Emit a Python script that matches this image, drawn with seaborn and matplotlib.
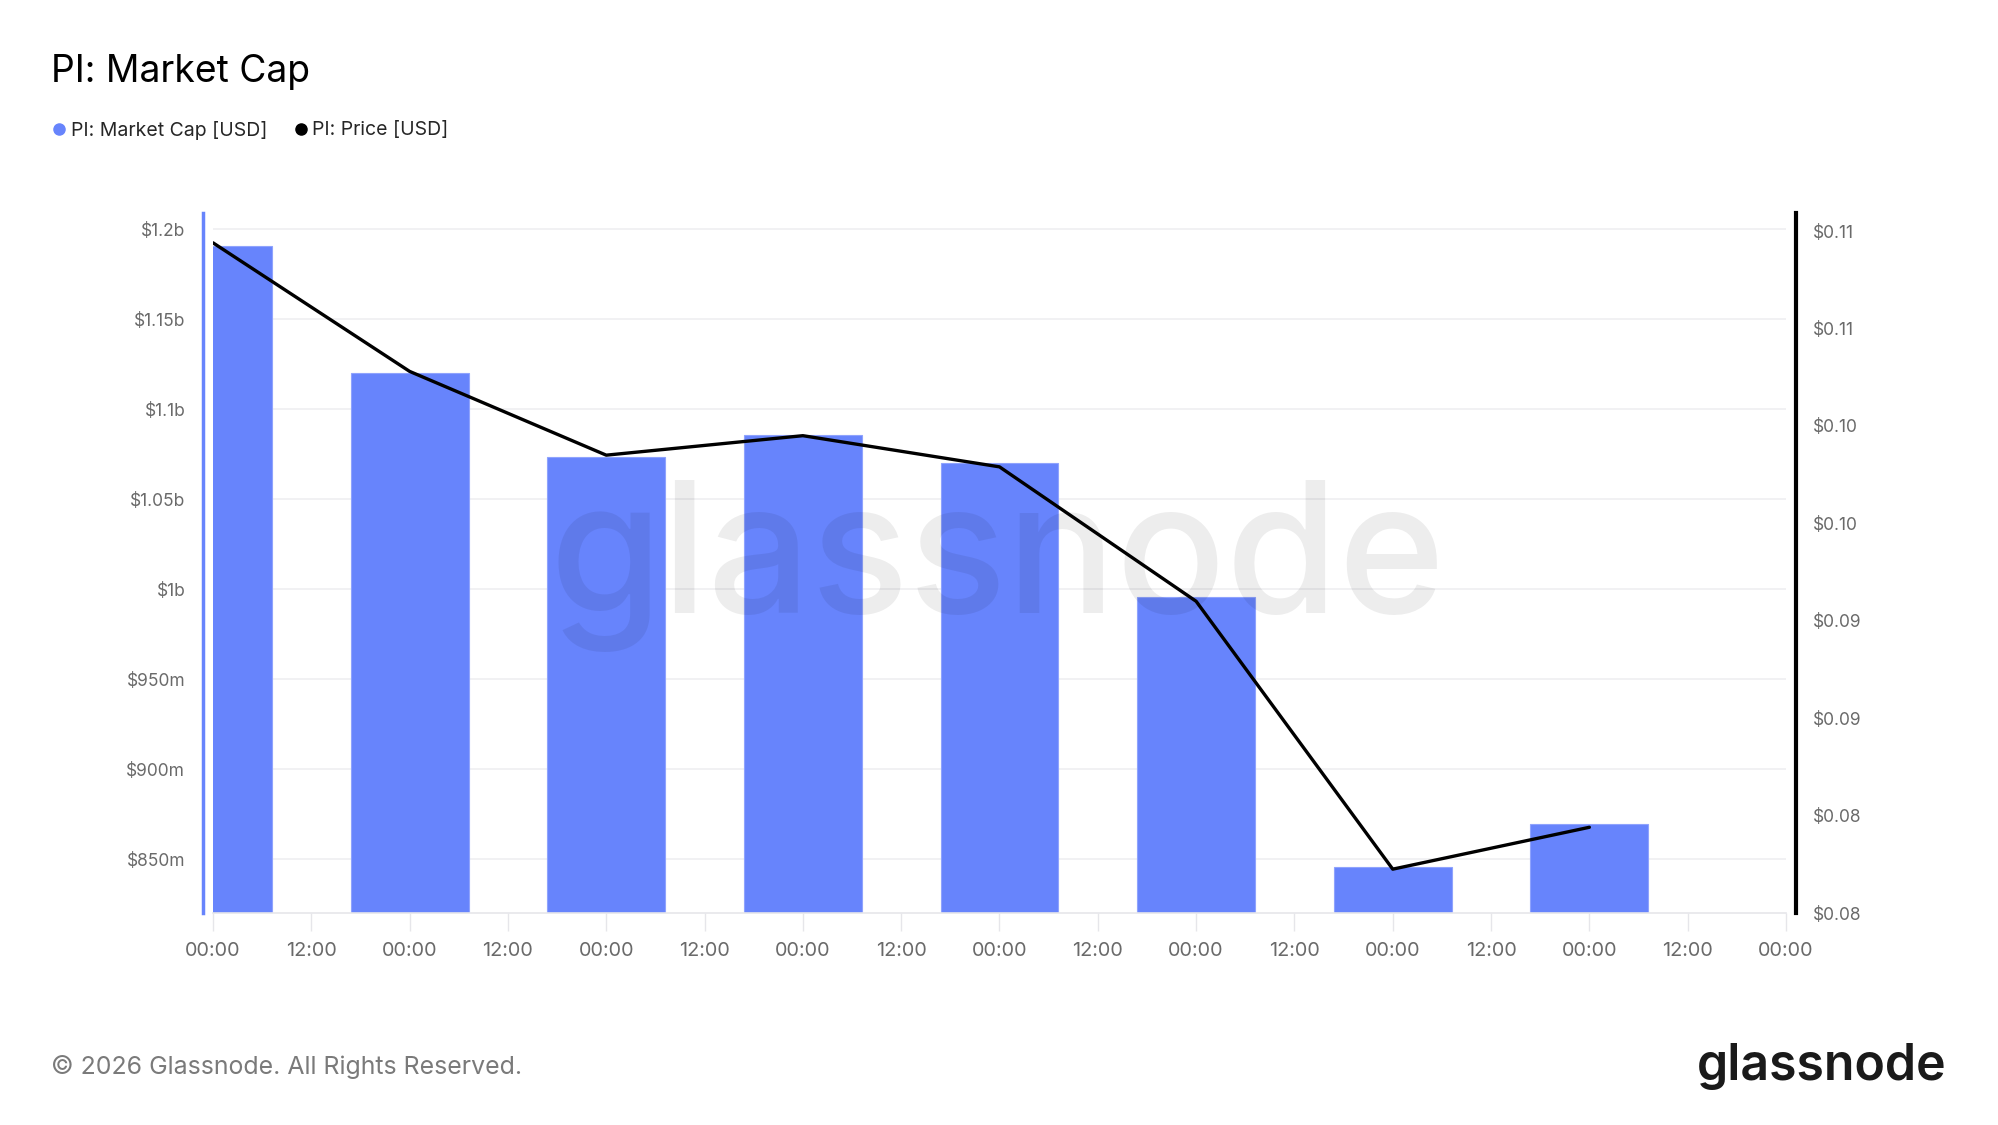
import math
import matplotlib
matplotlib.use("Agg")
import matplotlib.pyplot as plt
from matplotlib.lines import Line2D
from matplotlib.ticker import FixedLocator, FuncFormatter
import seaborn as sns

# daily values, day offset 0..7 (00:00 each day)
days = [0, 1, 2, 3, 4, 5, 6, 7]
market_cap = [1.1907e9, 1.1198e9, 1.0735e9, 1.0856e9, 1.0698e9, 0.9957e9, 0.8457e9, 0.8694e9]
price = [0.1144, 0.1078, 0.1035, 0.1045, 0.1029, 0.0960, 0.08225, 0.0844]

cap_ticks = [0.85e9, 0.9e9, 0.95e9, 1.0e9, 1.05e9, 1.1e9, 1.15e9, 1.2e9]
cap_labels = ["$850m", "$900m", "$950m", "$1b", "$1.05b", "$1.1b", "$1.15b", "$1.2b"]
price_ticks = [0.08, 0.085, 0.09, 0.095, 0.10, 0.105, 0.11, 0.115]
x_ticks = [i * 0.5 for i in range(17)]
x_labels = ["00:00" if i % 2 == 0 else "12:00" for i in range(17)]

BLUE = "#6784fc"
GREY = "#6a6a6a"

sns.set_theme(style="white")
plt.rcParams["font.family"] = ["Inter", "DejaVu Sans"]

W, H = 1999, 1125
fig = plt.figure(figsize=(W / 100, H / 100), dpi=100)
ax = fig.add_axes([213 / W, 1 - 913 / H, (1786 - 213) / W, (913 - 213) / H])

# watermark
fig.text(998 / W, 1 - 566 / H, "glassnode", fontsize=131, color="#000000", alpha=0.07,
         ha="center", va="center", fontweight="medium", zorder=0)

sns.barplot(x=days, y=market_cap, native_scale=True, width=0.6, color=BLUE,
            saturation=1, edgecolor="#8fa3fd", linewidth=0.8, ax=ax, zorder=2)
ax.set_xlim(0, 8)
ax.set_ylim(0.82e9, 1.2089e9)
ax.yaxis.set_major_locator(FixedLocator(cap_ticks))
ax.set_yticklabels(cap_labels)
ax.set_xticks(x_ticks)
ax.set_xticklabels(x_labels)
ax.grid(axis="y", color="#f0f0f2", linewidth=1.3, zorder=0)
ax.set_axisbelow(True)
ax.tick_params(axis="y", length=0, pad=13, labelsize=12.5, labelcolor=GREY)
ax.tick_params(axis="x", length=13, width=1, color="#e6e6ea", pad=8, labelsize=14.3, labelcolor=GREY,
               bottom=True)
for s in ["top", "right"]:
    ax.spines[s].set_visible(False)
ax.spines["left"].set_position(("outward", 7))
ax.spines["left"].set_color(BLUE)
ax.spines["left"].set_linewidth(2.5)
ax.spines["bottom"].set_color("#e6e6ea")
ax.spines["bottom"].set_linewidth(1.2)
ax.set_xlabel("")
ax.set_ylabel("")

ax2 = ax.twinx()
sns.lineplot(x=days, y=price, color="black", linewidth=2.4, ax=ax2, zorder=3)
ax2.set_ylim(0.08, 0.11593)
ax2.yaxis.set_major_locator(FixedLocator(price_ticks))
ax2.yaxis.set_major_formatter(FuncFormatter(lambda v, p: f"${math.floor(v * 100 + 1e-6) / 100:.2f}"))
ax2.tick_params(axis="y", length=0, pad=12, labelsize=12.5, labelcolor=GREY)
for s in ["top", "left", "bottom"]:
    ax2.spines[s].set_visible(False)
ax2.spines["right"].set_position(("outward", 7.5))
ax2.spines["right"].set_color("black")
ax2.spines["right"].set_linewidth(3)
ax2.set_ylabel("")
ax2.grid(False)

fig.text(51 / W, 1 - 72 / H, "PI: Market Cap", fontsize=26.8, color="black", va="center")

handles = [Line2D([], [], marker="o", linestyle="", color=BLUE, markersize=8),
           Line2D([], [], marker="o", linestyle="", color="black", markersize=8)]
fig.legend(handles, ["PI: Market Cap [USD]", "PI: Price [USD]"], loc="center left",
           bbox_to_anchor=(40 / W, 1 - 130 / H), ncol=2, frameon=False, fontsize=14,
           handletextpad=0.1, columnspacing=1.2, handlelength=1.0, borderpad=0)

fig.text(51 / W, 1 - 1067 / H, "\u00a9 2026 Glassnode. All Rights Reserved.", fontsize=17.9,
         color="#7a7a7a", va="center")
fig.text(1947 / W, 1 - 1067 / H, "glassnode", fontsize=36, color="#1a1a1a", ha="right",
         va="center", fontweight="semibold")

fig.savefig("out.png", dpi=100)
